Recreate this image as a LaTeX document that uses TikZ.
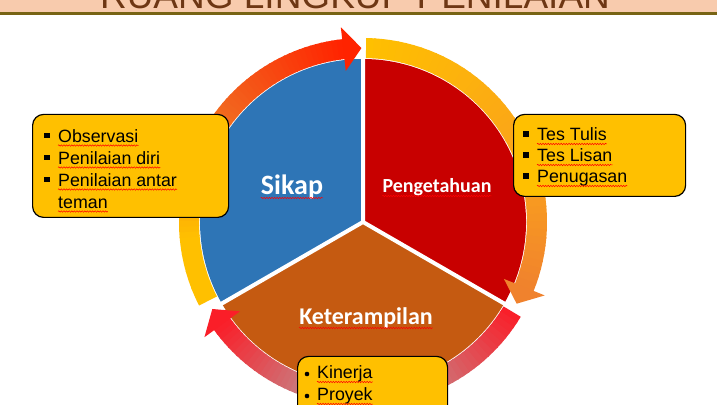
\documentclass[tikz,border=0pt]{standalone}
\usepackage{fontspec}
\setmainfont{Liberation Sans}
\newfontfamily\carlito{Carlito}
\usetikzlibrary{decorations.pathmorphing}
\definecolor{blueS}{RGB}{46,117,182}
\definecolor{redS}{RGB}{200,0,0}
\definecolor{orangeS}{RGB}{197,90,17}
\definecolor{boxY}{RGB}{255,192,0}
\definecolor{ringY}{RGB}{255,192,0}
\definecolor{ringO}{RGB}{242,100,30}
\definecolor{ringR}{RGB}{255,35,0}
\definecolor{ringA}{RGB}{250,160,30}
\definecolor{ringO2}{RGB}{240,130,45}
\definecolor{ringRed}{RGB}{250,30,40}
\definecolor{ringG}{RGB}{175,175,175}
\definecolor{peach}{RGB}{248,203,173}
\definecolor{olive}{RGB}{120,100,20}
\definecolor{titlebrown}{RGB}{110,55,20}
\tikzset{
  infobox/.style={draw=black, line width=1.2pt, fill=boxY, rounded corners=11pt, inner sep=0pt, anchor=south west},
  itemtext/.style={anchor=base west, inner sep=0pt, font=\fontsize{17.8}{20}\selectfont},
  sectorlabel/.style={anchor=base, inner sep=0pt, text=white},
  squig/.style={draw=red, line width=0.5pt, decorate, decoration={snake, amplitude=0.7pt, segment length=2.6pt}},
}
\newcommand{\ringgrad}[5]{%
  \foreach \k in {1,...,#5}{%
    \pgfmathsetmacro\aa{#1+(#2-#1)*(\k-1)/#5}%
    \pgfmathsetmacro\bb{#1+(#2-#1)*\k/#5-0.5}%
    \pgfmathtruncatemacro\pp{100*(\k-0.5)/#5}%
    \fill[#4!\pp!#3] (\aa:164) arc[start angle=\aa,end angle=\bb,radius=164] -- (\bb:184) arc[start angle=\bb,end angle=\aa,radius=184] -- cycle;
  }}
\newcommand{\ringhead}[2]{\fill[#2] (#1:174) -- (#1+6:196) -- (#1+6:152) -- cycle;}
\begin{document}
\begin{tikzpicture}[x=1pt,y=1pt]
\useasboundingbox (0,0) rectangle (717,404);
\clip (0,0) rectangle (717,404);
\fill[white] (0,0) rectangle (717,404);
% header
\fill[peach] (0,391) rectangle (717,404);
\node[anchor=base, inner sep=0pt, text=titlebrown, font=\fontsize{37}{40}\selectfont] (title) at (355,395.5) {RUANG LINGKUP PENILAIAN};
\fill[olive] (0,389) rectangle (717,392);
\coordinate (C) at (363,182);
\begin{scope}[shift={(C)}]
  \fill[blueS] (0,0) -- (90:163) arc[start angle=90,end angle=210,radius=163] -- cycle;
  \fill[redS] (0,0) -- (-30:163) arc[start angle=-30,end angle=90,radius=163] -- cycle;
  \fill[orangeS] (0,0) -- (210:163) arc[start angle=210,end angle=330,radius=163] -- cycle;
  \draw[white, line width=4pt] (0,0) -- (90:190) (0,0) -- (210:166) (0,0) -- (330:166);
  % top-left arrow
  \ringgrad{207}{185}{ringY}{ringY}{4}
  \ringgrad{185}{140}{ringY}{ringO}{25}
  \ringgrad{140}{96.5}{ringO}{ringR}{25}
  \ringhead{90.5}{ringR}
  % right arrow
  \ringgrad{89}{15}{ringY}{ringA}{30}
  \ringgrad{15}{-22}{ringA}{ringO2}{15}
  \ringhead{-28}{ringO2}
  % bottom arrow
  \ringgrad{329}{270}{ringRed}{ringG}{30}
  \ringgrad{270}{216}{ringG}{ringRed}{30}
  \ringhead{210}{ringRed}
\end{scope}
% sector labels
\node[sectorlabel, font=\carlito\bfseries\fontsize{28}{30}\selectfont] (sikap) at (292,209) {Sikap};
\node[sectorlabel, font=\carlito\bfseries\fontsize{20}{22}\selectfont] (peng) at (437,211) {Pengetahuan};
\node[sectorlabel, font=\carlito\bfseries\fontsize{24}{26}\selectfont] (ket) at (366,79) {Keterampilan};
\foreach \n in {sikap,peng,ket}{\draw[squig] ([yshift=-3pt]\n.base west) -- ([yshift=-3pt]\n.base east);}
% boxes
\node[infobox, minimum width=196pt, minimum height=103pt] (boxL) at (32,186) {};
\node[infobox, minimum width=172pt, minimum height=82pt] (boxR) at (513,207) {};
\node[infobox, minimum width=150pt, minimum height=67pt] (boxB) at (297,-20) {};
% left box text
\node[itemtext] (l1) at (58,261.5) {Observasi};
\node[itemtext] (l2) at (58,239.5) {Penilaian diri};
\node[itemtext] (l3) at (58,217.5) {Penilaian antar};
\node[itemtext] (l4) at (58,195.5) {teman};
\foreach \yy in {261.5,239.5,217.5}{\fill (44.3,\yy+4.3) rectangle ++(5.4,5.4);}
% right box text
\node[itemtext] (r1) at (537,263) {Tes Tulis};
\node[itemtext] (r2) at (537,242) {Tes Lisan};
\node[itemtext] (r3) at (537,221) {Penugasan};
\foreach \yy in {263,242,221}{\fill (523.3,\yy+4.3) rectangle ++(5.4,5.4);}
% bottom box text
\node[itemtext] (b1) at (317,25) {Kinerja};
\node[itemtext] (b2) at (317,3) {Proyek};
\foreach \yy in {25,3}{\fill (307,\yy+5) circle (2.3);}
\foreach \n in {l1,l2,l3,l4,r1,r2,r3,b1,b2}{\draw[squig] ([yshift=-3pt]\n.base west) -- ([yshift=-3pt]\n.base east);}
\end{tikzpicture}
\end{document}
